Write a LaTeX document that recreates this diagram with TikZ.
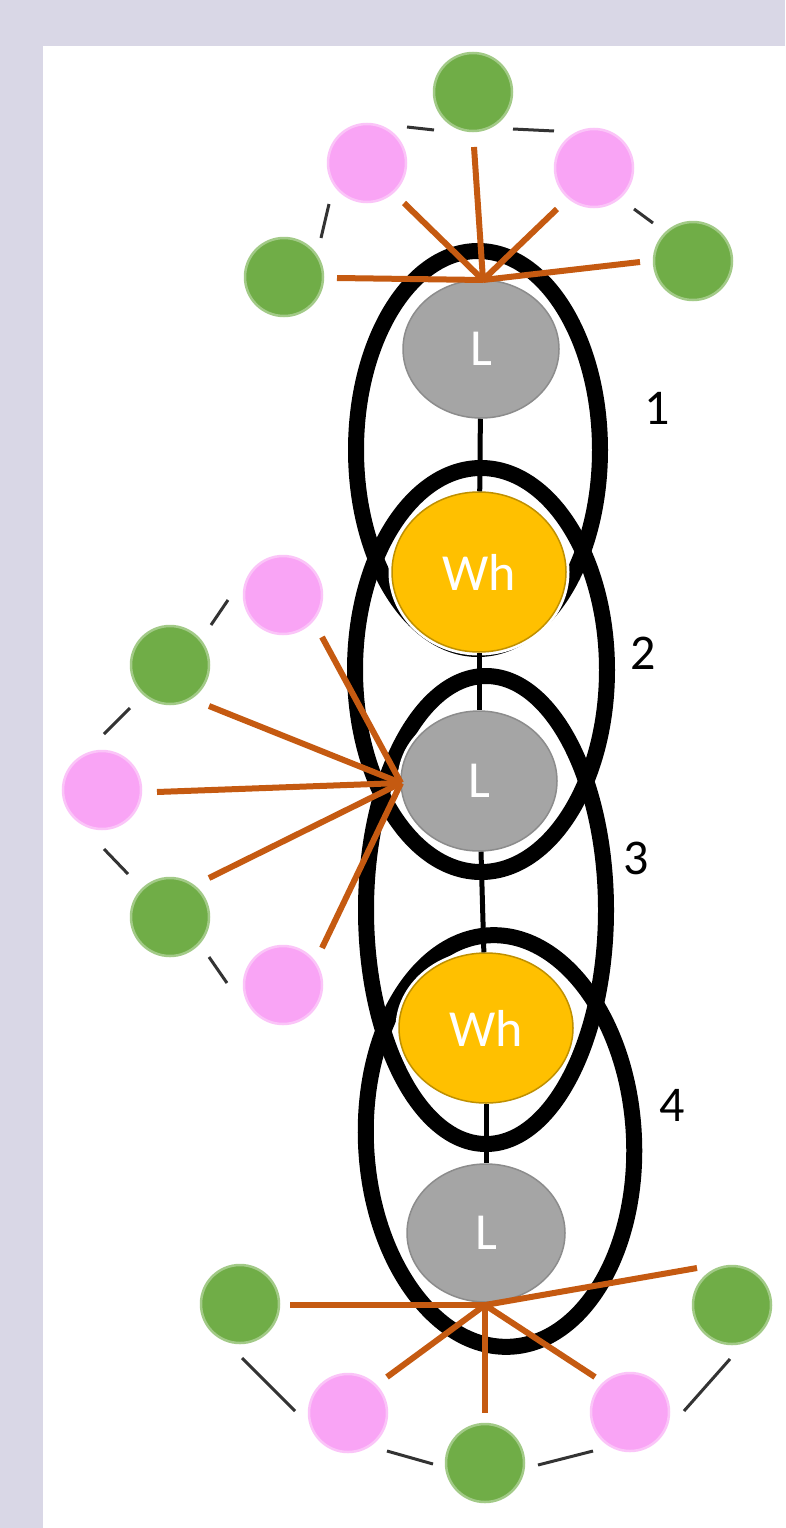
\documentclass[tikz,border=0pt]{standalone}
\usepackage{fontspec}
\setmainfont{Carlito}
\usetikzlibrary{shapes.geometric}
\definecolor{panelbg}{HTML}{D9D7E6}
\definecolor{leafgreen}{HTML}{70AD47}
\definecolor{leafpink}{HTML}{F9A4F5}
\definecolor{spokeorange}{HTML}{C55A11}
\definecolor{lgray}{HTML}{A5A5A5}
\definecolor{whgold}{HTML}{FFC000}

\begin{document}
\begin{tikzpicture}[
        x=1pt, y=-1pt,
        ring/.style={
            ellipse,
            draw,
            line width=16pt,
            inner sep=0pt
        },
        lnode/.style={
            ellipse,
            fill=lgray,
            draw=black!45,
            line width=1.5pt,
            inner sep=0pt,
            text=white,
            font=\fontsize{52}{56}\selectfont,
            preaction={draw=white, line width=7pt}
        },
        whnode/.style={
            lnode,
            fill=whgold,
            draw=whgold!75!black
        },
        bead/.style={
            circle,
            minimum size=78pt,
            inner sep=0pt,
            fill=#1,
            draw=#1!65,
            line width=2.5pt
        },
        link/.style={line width=5pt},
        spoke/.style={draw=spokeorange, line width=6pt},
        frag/.style={draw=black!80, line width=3pt},
        num/.style={font=\fontsize{50}{54}\selectfont}
    ]
    \useasboundingbox (0,0) rectangle (785,1528);

    % Panel
    \fill[panelbg] (0,0) rectangle (785,1528);
    \fill[white] (43,46) rectangle (785,1528);

    % Overlapping rings
    \node[ring, minimum width=244pt, minimum height=398pt] (R1) at (478,450) {};
    \node[ring, minimum width=252pt, minimum height=404pt] (R2) at (481,670) {};
    \node[ring, minimum width=240pt, minimum height=468pt] (R3) at (486,910) {};
    \node[ring, minimum width=268pt, minimum height=412pt, rotate=3] (R4) at (500,1141) {};

    % Chain
    \node[lnode, minimum width=156pt, minimum height=138pt] (L1) at (481,349) {L};
    \node[whnode, minimum width=174pt, minimum height=160pt] (W1) at (479,572) {Wh};
    \node[lnode, minimum width=156pt, minimum height=140pt] (L2) at (479,781) {L};
    \node[whnode, minimum width=174pt, minimum height=150pt] (W2) at (486,1028) {Wh};
    \node[lnode, minimum width=158pt, minimum height=138pt] (L3) at (486,1233) {L};

    \draw[link] (L1) -- (W1);
    \draw[link] (W1) -- (L2);
    \draw[link] (L2) -- (W2);
    \draw[link] (W2) -- (L3);

    % Ring numbers
    \node[num] (n1) at (657,408) {1};
    \node[num] (n2) at (643,653) {2};
    \node[num] (n3) at (636,858) {3};
    \node[num] (n4) at (672,1105) {4};

    % Top group
    \node[bead=leafgreen] (T1) at (473,92) {};
    \node[bead=leafpink] (T2) at (367,163) {};
    \node[bead=leafpink] (T3) at (594,168) {};
    \node[bead=leafgreen] (T4) at (284,277) {};
    \node[bead=leafgreen] (T5) at (693,261) {};
    \coordinate (topHub) at (483,280);
    \coordinate (t1tip) at (474,147);
    \coordinate (t2tip) at (404,203);
    \coordinate (t3tip) at (557,209);
    \coordinate (t4tip) at (337,278);
    \coordinate (t5tip) at (640,262);

    % Left group
    \node[bead=leafpink] (M1) at (283,595) {};
    \node[bead=leafgreen] (M2) at (170,665) {};
    \node[bead=leafpink] (M3) at (102,790) {};
    \node[bead=leafgreen] (M4) at (170,917) {};
    \node[bead=leafpink] (M5) at (283,985) {};
    \coordinate (midHub) at (401,783);
    \coordinate (m1tip) at (322,637);
    \coordinate (m2tip) at (209,706);
    \coordinate (m3tip) at (157,792);
    \coordinate (m4tip) at (209,878);
    \coordinate (m5tip) at (322,948);

    % Bottom group
    \node[bead=leafgreen] (B1) at (240,1304) {};
    \node[bead=leafpink] (B2) at (348,1413) {};
    \node[bead=leafgreen] (B3) at (485,1463) {};
    \node[bead=leafpink] (B4) at (630,1412) {};
    \node[bead=leafgreen] (B5) at (732,1305) {};
    \coordinate (botHub) at (485,1305);
    \coordinate (b1tip) at (290,1305);
    \coordinate (b2tip) at (387,1377);
    \coordinate (b3tip) at (485,1413);
    \coordinate (b4tip) at (595,1377);
    \coordinate (b5tip) at (697,1268);

    % Dashed outline pieces
    \draw[frag] (407,127) -- (434,130);
    \draw[frag] (513,129) -- (554,131);
    \draw[frag] (329,204) -- (321,238);
    \draw[frag] (634,209) -- (653,223);

    \draw[frag] (228,600) -- (211,625);
    \draw[frag] (130,708) -- (104,734);
    \draw[frag] (104,849) -- (128,874);
    \draw[frag] (209,957) -- (227,983);

    \draw[frag] (242,1358) -- (295,1411);
    \draw[frag] (387,1451) -- (433,1464);
    \draw[frag] (538,1465) -- (593,1451);
    \draw[frag] (684,1411) -- (730,1359);

    % Spokes
    \draw[spoke] (topHub) -- (t1tip);
    \draw[spoke] (topHub) -- (t2tip);
    \draw[spoke] (topHub) -- (t3tip);
    \draw[spoke] (topHub) -- (t4tip);
    \draw[spoke] (topHub) -- (t5tip);

    \draw[spoke] (midHub) -- (m1tip);
    \draw[spoke] (midHub) -- (m2tip);
    \draw[spoke] (midHub) -- (m3tip);
    \draw[spoke] (midHub) -- (m4tip);
    \draw[spoke] (midHub) -- (m5tip);

    \draw[spoke] (botHub) -- (b1tip);
    \draw[spoke] (botHub) -- (b2tip);
    \draw[spoke] (botHub) -- (b3tip);
    \draw[spoke] (botHub) -- (b4tip);
    \draw[spoke] (botHub) -- (b5tip);

\end{tikzpicture}
\end{document}
